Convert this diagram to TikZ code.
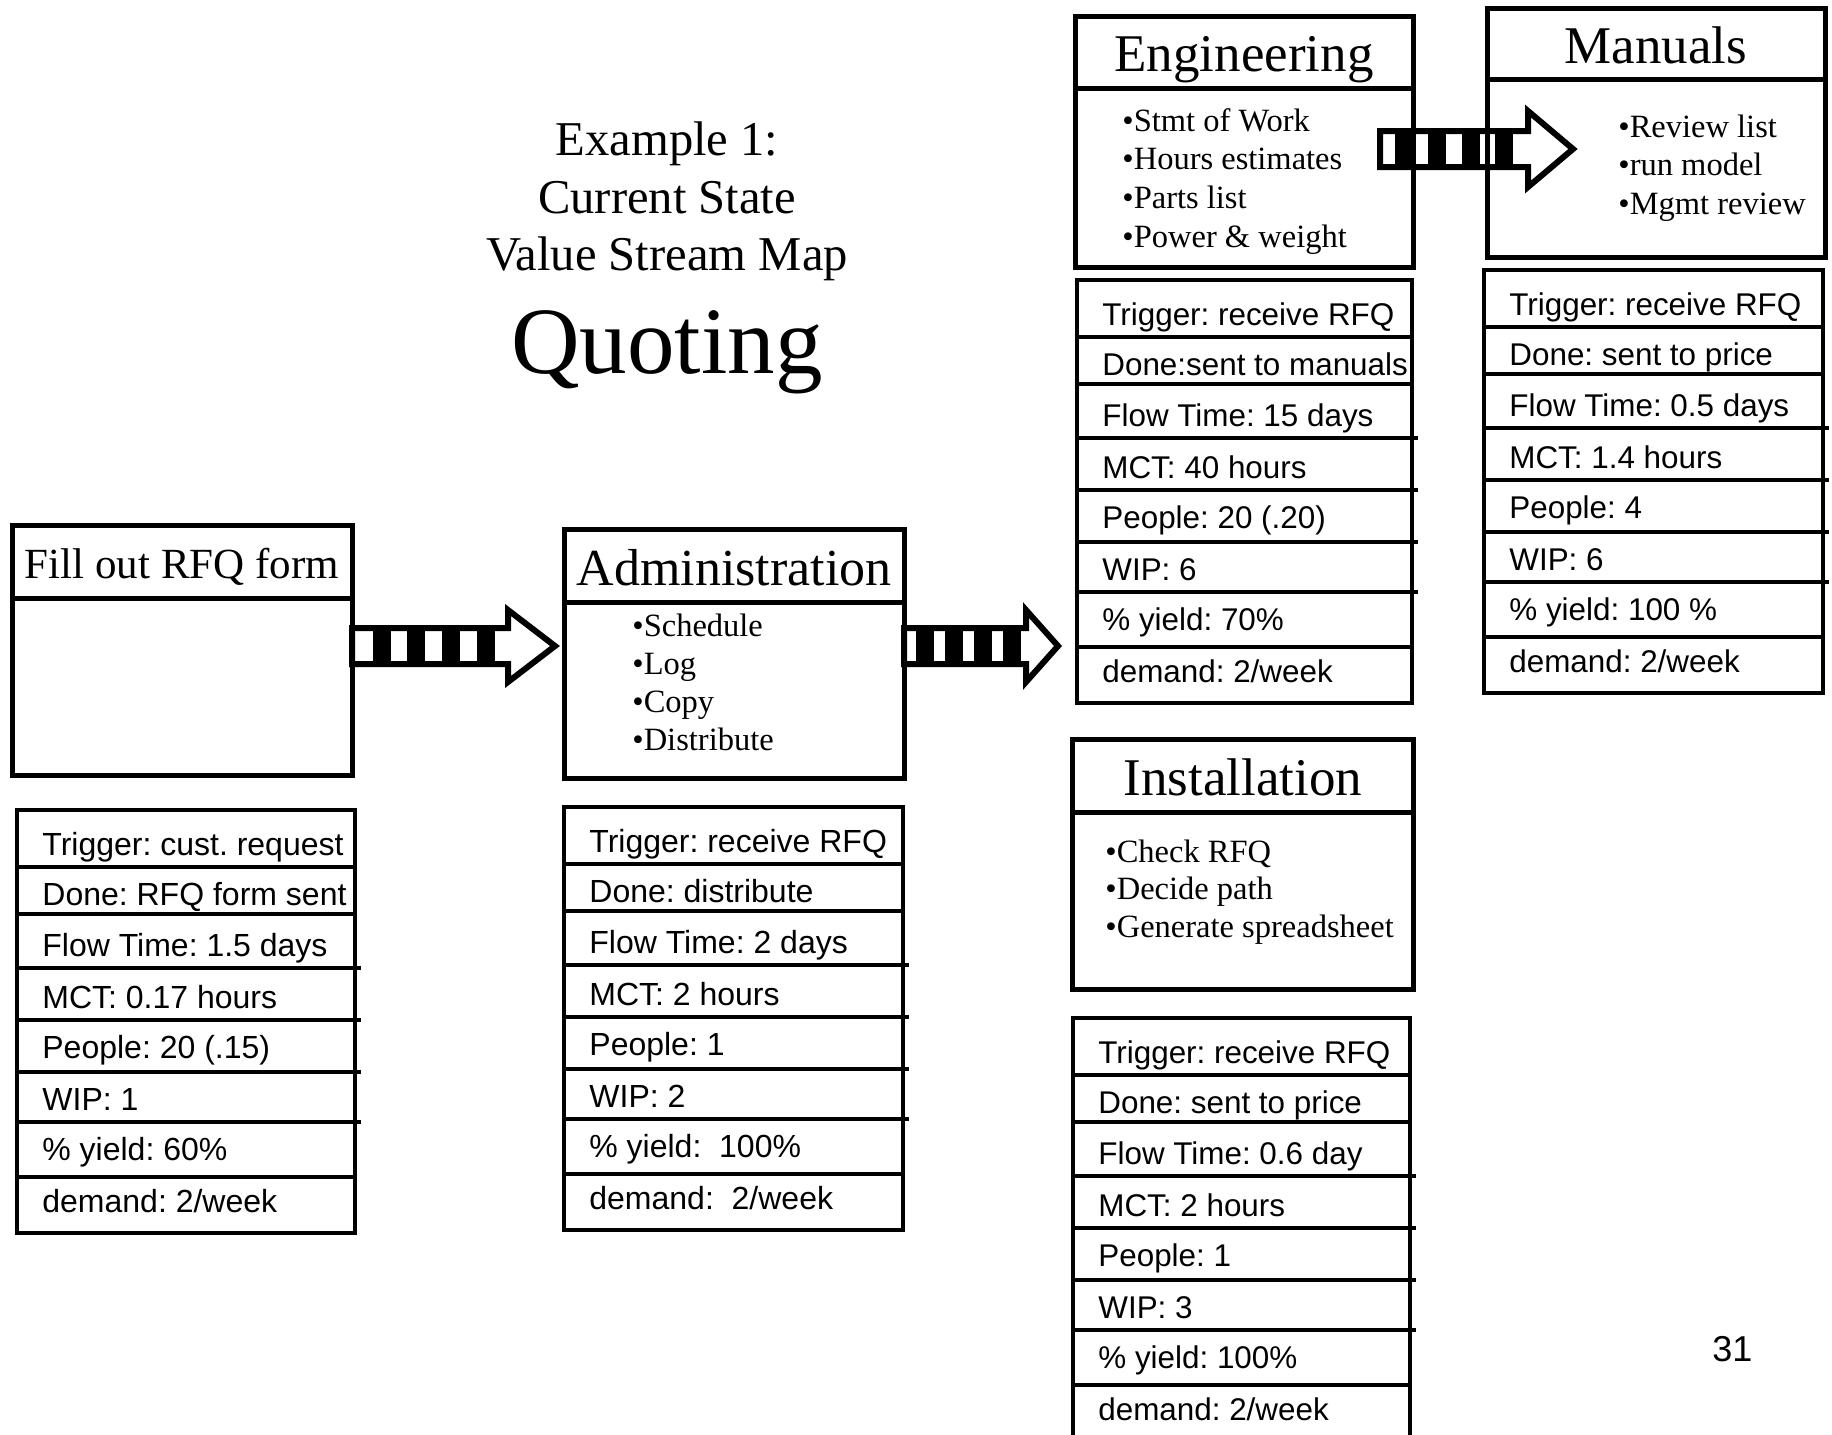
\documentclass[tikz,border=0pt]{standalone}
\usepackage{fontspec}
\setmainfont{Liberation Serif}
\setsansfont{Liberation Sans}
\usetikzlibrary{calc,backgrounds}

% Units: one unit = one pixel of a 1832 x 1435 sheet, y grows downwards.
\tikzset{
  boxline/.style={line width=2.5pt},
  tableline/.style={line width=1.7pt},
  procbox/.style={draw, boxline, rectangle, inner sep=0pt, outer sep=0pt, anchor=north west},
  tablebox/.style={draw, tableline, rectangle, inner sep=0pt, outer sep=0pt, anchor=north west},
  headtext/.style={inner sep=0pt, anchor=base, font=\fontsize{26.5}{30}\selectfont},
  bullettext/.style={inner sep=0pt, anchor=base west, font=\fontsize{16.25}{19}\selectfont},
  datatext/.style={inner sep=0pt, anchor=base west, font=\sffamily\frenchspacing\fontsize{#1}{18}\selectfont},
  datatext/.default=15.7,
  titletext/.style={inner sep=0pt, anchor=base, font=\fontsize{24.3}{28}\selectfont},
  arrowline/.style={line width=3pt, draw=black, fill=white},
  % push arrow: #1 head base x, #2 tip x, #3 shaft half height,
  % #4 head half height, #5 left edges of the black stripes
  pics/pusharrow/.style n args={5}{code={
    \filldraw[arrowline] (0,-#3) -- (#1,-#3) -- (#1,-#4) -- (#2,0)
      -- (#1,#4) -- (#1,#3) -- (0,#3) -- cycle;
    \foreach \s in {#5} \fill (\s,-#3-3) rectangle ++(18,2*#3+6);
  }},
}

% metrics table: [#1 font size], #2 name, #3 left x, #4 top y, #5 width, #6 row texts
\newcommand\DataTable[6][15.7]{%
  \node[tablebox, minimum width=#5*0.5pt, minimum height=211.5pt] (#2) at (#3,#4) {};
  \foreach \off/\ext in {57/0,104/0,158/6,210/6,262/6,312/6,367/0}
    \draw[tableline] ($(#2.north west)+(0,\off)$) -- ($(#2.north east)+(\ext,\off)$);
  \foreach \txt [count=\i] in {#6} {
    \pgfmathsetmacro\bl{{45,95,146,198,248,300,350,402}[\i-1]}
    \node[datatext=#1] (#2-\i) at ($(#2.north west)+(25,\bl)$) {\txt};
  }%
}

\begin{document}
\begin{tikzpicture}[x=0.5pt,y=-0.5pt]
\useasboundingbox (0,0) rectangle (1832,1435);
\clip (0,0) rectangle (1832,1435);

% title
\node[titletext] (title1) at (667,155) {Example 1:};
\node[titletext] (title2) at (667,213) {Current State};
\node[titletext] (title3) at (667,270) {Value Stream Map};
\node[inner sep=0pt, anchor=base, font=\fontsize{47.5}{52}\selectfont] (quoting) at (667,373) {Quoting};

% process boxes
\node[procbox, minimum width=170pt, minimum height=125pt] (fillbox) at (12,525) {};
\draw[boxline] (fillbox.west |- 0,598) -- (fillbox.east |- 0,598);
\node[headtext, font=\fontsize{21.5}{25}\selectfont] (fillhead) at (182,578) {Fill out RFQ form};

\node[procbox, minimum width=170pt, minimum height=124.5pt] (adminbox) at (564,529) {};
\draw[boxline] (adminbox.west |- 0,602) -- (adminbox.east |- 0,602);
\node[headtext, font=\fontsize{26}{30}\selectfont] (adminhead) at (734,585) {Administration};
\foreach \t/\y [count=\i] in {Schedule/636, Log/674, Copy/712, Distribute/750}
  \node[bullettext] (admin-b\i) at (632,\y) {•\t};

\node[procbox, minimum width=169pt, minimum height=125.5pt] (engbox) at (1075,16) {};
\draw[boxline] (engbox.west |- 0,88) -- (engbox.east |- 0,88);
\node[headtext] (enghead) at (1244,71) {Engineering};
\foreach \t/\y [count=\i] in {Stmt of Work/131, Hours estimates/169, Parts list/208, Power \& weight/247}
  \node[bullettext] (eng-b\i) at (1122,\y) {•\t};

\node[procbox, minimum width=169pt, minimum height=124.5pt] (manbox) at (1487,8) {};
\draw[boxline] (manbox.west |- 0,79) -- (manbox.east |- 0,79);
\node[headtext] (manhead) at (1656,63) {Manuals};
\foreach \t/\y [count=\i] in {Review list/137, run model/175, Mgmt review/214}
  \node[bullettext] (man-b\i) at (1618,\y) {•\t};

\node[procbox, minimum width=170.5pt, minimum height=125pt] (instbox) at (1072,739) {};
\draw[boxline] (instbox.west |- 0,812) -- (instbox.east |- 0,812);
\node[headtext] (insthead) at (1243,795) {Installation};
\foreach \t/\y [count=\i] in {Check RFQ/862, Decide path/899, Generate spreadsheet/937}
  \node[bullettext] (inst-b\i) at (1105,\y) {•\t};

% push arrows between the processes
\begin{scope}[on background layer]
  \pic at ($(fillbox.north east)+(0,121)$) {pusharrow={156}{203}{18}{36}{21,55,90,125}};
  \pic at ($(adminbox.north east)+(0,117)$) {pusharrow={122}{154}{18}{36}{12,41,70,99}};
  \pic at ($(engbox.north east)+(-33,133)$) {pusharrow={148}{193}{18}{38}{15,48,82,115}};
\end{scope}

% metrics tables
\DataTable[16]{filldata}{17}{810}{338}{Trigger: cust. request, Done: RFQ form sent,
  Flow Time: 1.5 days, MCT: 0.17 hours, People: 20 (.15), WIP: 1,
  \% yield: 60\%, demand: 2/week}
\DataTable[16]{admindata}{564}{807}{339}{Trigger: receive RFQ, Done: distribute,
  Flow Time: 2 days, MCT: 2 hours, People: 1, WIP: 2,
  \% yield:\ \ 100\%, demand:\ \ 2/week}
\DataTable{engdata}{1077}{280}{335}{Trigger: receive RFQ, Done:sent to manuals,
  Flow Time: 15 days, MCT: 40 hours, People: 20 (.20), WIP: 6,
  \% yield: 70\%, demand: 2/week}
\DataTable{mandata}{1484}{270}{339}{Trigger: receive RFQ, Done: sent to price,
  Flow Time: 0.5 days, MCT: 1.4 hours, People: 4, WIP: 6,
  \% yield: 100 \%, demand: 2/week}
\DataTable{instdata}{1073}{1018}{337}{Trigger: receive RFQ, Done: sent to price,
  Flow Time: 0.6 day, MCT: 2 hours, People: 1, WIP: 3,
  \% yield: 100\%, demand: 2/week}

% page number
\node[inner sep=0pt, anchor=base west, font=\sffamily\fontsize{18}{20}\selectfont] (pagenum) at (1712,1361) {31};
\end{tikzpicture}
\end{document}
